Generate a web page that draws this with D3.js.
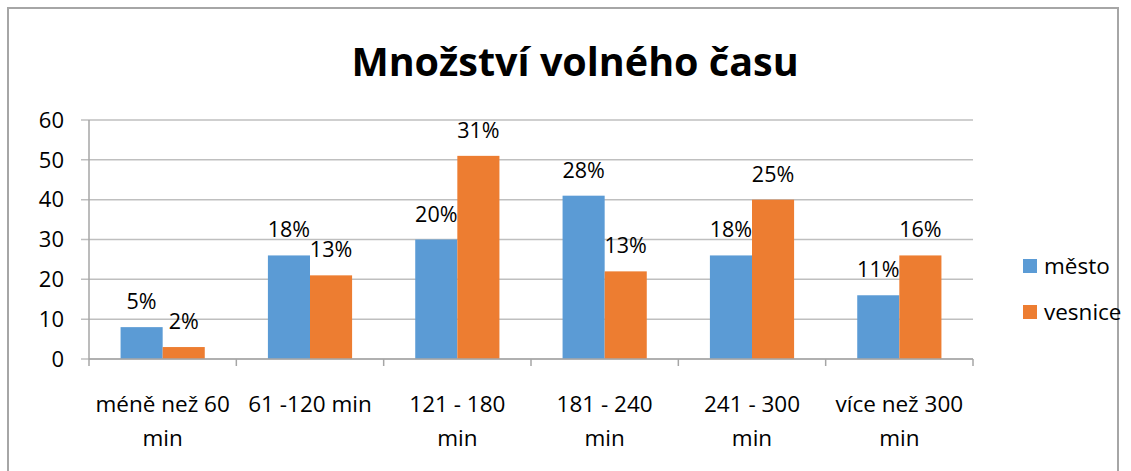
<!DOCTYPE html>
<html><head><meta charset="utf-8">
<script src="https://cdn.jsdelivr.net/npm/d3@7"></script>
<style>
html,body{margin:0;padding:0;background:#fff;}
svg text{font-family:"Open Sans", sans-serif;fill:#000;}
</style></head>
<body>
<svg id="c" width="1131" height="471"></svg>
<script>
const categories = ["méně než 60 min","61 -120 min","121 - 180 min","181 - 240 min","241 - 300 min","více než 300 min"];
const categoryLines = [["méně než 60","min"],["61 -120 min"],["121 - 180","min"],["181 - 240","min"],["241 - 300","min"],["více než 300","min"]];
const seriesNames = ["město","vesnice"];
const mesto = [8,26,30,41,26,16];
const vesnice = [3,21,51,22,40,26];
const mestoLabels = ["5%","18%","20%","28%","18%","11%"];
const vesniceLabels = ["2%","13%","31%","13%","25%","16%"];
const yTicks = [0,10,20,30,40,50,60];
const colors = ["#5B9BD5","#ED7D31"];

const svg = d3.select("#c");
svg.append("rect").attr("x",8).attr("y",8).attr("width",1110).attr("height",480)
  .attr("fill","#fff").attr("stroke","#A6A6A6").attr("stroke-width",2);

svg.append("text").attr("x",575).attr("y",76).attr("text-anchor","middle")
  .style("font-size","39.5px").style("font-weight","bold").text("Množství volného času");

const x = d3.scaleBand().domain(categories).range([89,973]).paddingInner(0).paddingOuter(0);
const y = d3.scaleLinear().domain([0,60]).range([359,120]);
const xs = d3.scaleBand().domain(seriesNames).range([0,x.bandwidth()]).paddingInner(0).paddingOuter(0.75);

svg.append("g").selectAll("line").data(yTicks).join("line")
  .attr("x1",81).attr("x2",973).attr("y1",d=>y(d)).attr("y2",d=>y(d))
  .attr("stroke","#BFBFBF").attr("stroke-width",1.5);

svg.append("g").selectAll("text").data(yTicks).join("text")
  .attr("x",64).attr("y",d=>y(d)).attr("dy","0.35em").attr("text-anchor","end")
  .style("font-size","22px").text(d=>d);

const data = categories.map((c,i)=>({c, vals:[mesto[i],vesnice[i]], labs:[mestoLabels[i],vesniceLabels[i]]}));
const groups = svg.append("g").selectAll("g").data(data).join("g")
  .attr("transform",d=>`translate(${x(d.c)},0)`);
groups.selectAll("rect").data(d=>d.vals.map((v,j)=>({v,s:seriesNames[j],j}))).join("rect")
  .attr("x",d=>xs(d.s)).attr("width",xs.bandwidth())
  .attr("y",d=>y(d.v)).attr("height",d=>y(0)-y(d.v)).attr("fill",d=>colors[d.j]);
groups.selectAll("text").data(d=>d.vals.map((v,j)=>({v,s:seriesNames[j],l:d.labs[j]}))).join("text")
  .attr("x",d=>xs(d.s)+xs.bandwidth()/2).attr("y",d=>y(d.v)-18).attr("text-anchor","middle")
  .style("font-size","21.5px").text(d=>d.l);

const ax = svg.append("g");
ax.append("line").attr("x1",89).attr("x2",973).attr("y1",359).attr("y2",359).attr("stroke","#A6A6A6").attr("stroke-width",1.5);
ax.append("line").attr("x1",89).attr("x2",89).attr("y1",120).attr("y2",359).attr("stroke","#A6A6A6").attr("stroke-width",1.5);
const tickPos = categories.map(c=>x(c)).concat([x.range()[1]]);
ax.selectAll("line.t").data(tickPos).join("line").attr("class","t")
  .attr("x1",d=>d).attr("x2",d=>d).attr("y1",359).attr("y2",366).attr("stroke","#A6A6A6").attr("stroke-width",1.5);

const cl = svg.append("g").selectAll("text").data(categories).join("text")
  .attr("x",d=>x(d)+x.bandwidth()/2).attr("y",412).attr("text-anchor","middle").style("font-size","22.5px");
cl.selectAll("tspan").data((d,i)=>categoryLines[i]).join("tspan")
  .attr("x",function(){return this.parentNode.getAttribute("x");})
  .attr("dy",(d,i)=>i===0?0:34).text(d=>d);

const lg = svg.append("g").selectAll("g").data(seriesNames).join("g")
  .attr("transform",(d,i)=>`translate(1023,${259+i*46})`);
lg.append("rect").attr("width",14).attr("height",14).attr("fill",(d,i)=>colors[i]);
lg.append("text").attr("x",21).attr("y",7).attr("dy","0.35em").style("font-size","22.5px").text(d=>d);
</script>
</body></html>
